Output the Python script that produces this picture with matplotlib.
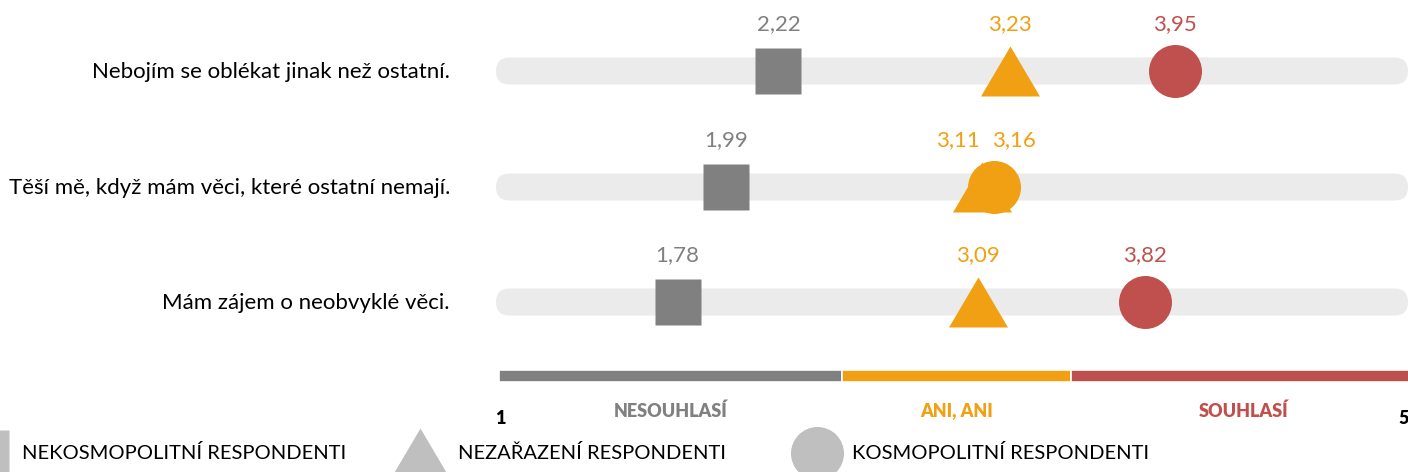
import matplotlib
matplotlib.use("Agg")
import matplotlib.pyplot as plt
from matplotlib.patches import FancyBboxPatch

plt.rcParams['font.family'] = ['Lato', 'DejaVu Sans']

# ---------------- data ----------------
statements = [
    "Nebojím se oblékat jinak než ostatní.",
    "Těší mě, když mám věci, které ostatní nemají.",
    "Mám zájem o neobvyklé věci.",
]
nekosmopolitni = [2.22, 1.99, 1.78]
nezarazeni = [3.23, 3.11, 3.09]
kosmopolitni = [3.95, 3.16, 3.82]

group_names = ["NEKOSMOPOLITNÍ RESPONDENTI", "NEZAŘAZENÍ RESPONDENTI", "KOSMOPOLITNÍ RESPONDENTI"]
zone_names = ["NESOUHLASÍ", "ANI, ANI", "SOUHLASÍ"]
zone_edges = [1, 2.5, 3.5, 5]
scale_min, scale_max = 1, 5

# ---------------- style ----------------
GRAY = "#808080"
ORANGE = "#F0A012"
RED = "#C0504D"
TRACK = "#EBEBEB"
LEG = "#BFBFBF"
zone_colors = [GRAY, ORANGE, RED]

W, H = 1408, 472
X1_PX, UNIT_PX = 499.0, 229.0   # pixel of value 1, pixels per unit
row_px = [71, 187, 302]

def px(v):
    return X1_PX + (v - 1) * UNIT_PX

def color_for(v):
    for i in range(3):
        if zone_edges[i] <= v < zone_edges[i + 1]:
            return zone_colors[i]
    return zone_colors[-1]

fig = plt.figure(figsize=(W / 100, H / 100), dpi=100)
# data axes: x = scale value, y = pixel row
ax = fig.add_axes([0, 0, 1, 1])
ax.set_xlim(1 - X1_PX / UNIT_PX, 1 + (W - X1_PX) / UNIT_PX)
ax.set_ylim(H, 0)
ax.axis("off")
# layout axes: pixel coords
lay = fig.add_axes([0, 0, 1, 1], zorder=-1)
lay.set_xlim(0, W)
lay.set_ylim(H, 0)
lay.axis("off")

# tracks
for y in row_px:
    lay.add_patch(FancyBboxPatch((px(scale_min) - 3, y - 13.5), W - px(scale_min) + 3, 27,
                                 boxstyle="round,pad=0,rounding_size=13.5",
                                 fc=TRACK, ec="none"))

for i, s in enumerate(statements):
    lay.text(450, row_px[i] + 1, s, ha="right", va="center", fontsize=16, color="black")

P = 0.72  # px -> pt
tri = [(-29.5, -25), (29.5, -25), (0, 25)]
markers = [("s", 46 * P, nekosmopolitni), (tri, 59 * P, nezarazeni), ("o", 53 * P, kosmopolitni)]
label_dx = {(1, 1): -24, (1, 2): 20}

for gi, (m, ms, vals) in enumerate(markers):
    for ri, v in enumerate(vals):
        c = color_for(v)
        ax.plot([v], [row_px[ri]], marker=m, ms=ms, color=c, mec="none", ls="none", zorder=3 + gi)
        dx = label_dx.get((ri, gi), 0)
        ax.annotate(f"{v:.2f}".replace(".", ","), (v, row_px[ri]), xytext=(dx * P, 47 * P),
                    textcoords="offset points", ha="center", va="center",
                    fontsize=16, color=c)

# scale bar
for i in range(3):
    ax.barh(376, zone_edges[i + 1] - zone_edges[i], left=zone_edges[i], height=12,
            color=zone_colors[i], edgecolor="white", linewidth=1.2)
    mid = (zone_edges[i] + zone_edges[i + 1]) / 2
    ax.text(mid, 411, zone_names[i], ha="center", va="center", fontsize=13,
            fontweight="heavy", color=zone_colors[i])

ax.text(scale_min + 0.005, 418, str(scale_min), ha="center", va="center", fontsize=13, fontweight="heavy", color="black")
ax.text(scale_max - 0.05, 418, str(scale_max), ha="center", va="center", fontsize=13, fontweight="heavy", color="black")

# legend
leg_items = [("s", 46 * P, -14, 22), (tri, 59 * P, 420, 458), ("o", 53 * P, 816.5, 852)]
for (m, ms, mx, tx), name in zip(leg_items, group_names):
    lay.plot([mx], [453], marker=m, ms=ms, color=LEG, mec="none", ls="none")
    lay.text(tx, 453, name, ha="left", va="center", fontsize=14.5, color="black")

fig.savefig("out.png", dpi=100)
